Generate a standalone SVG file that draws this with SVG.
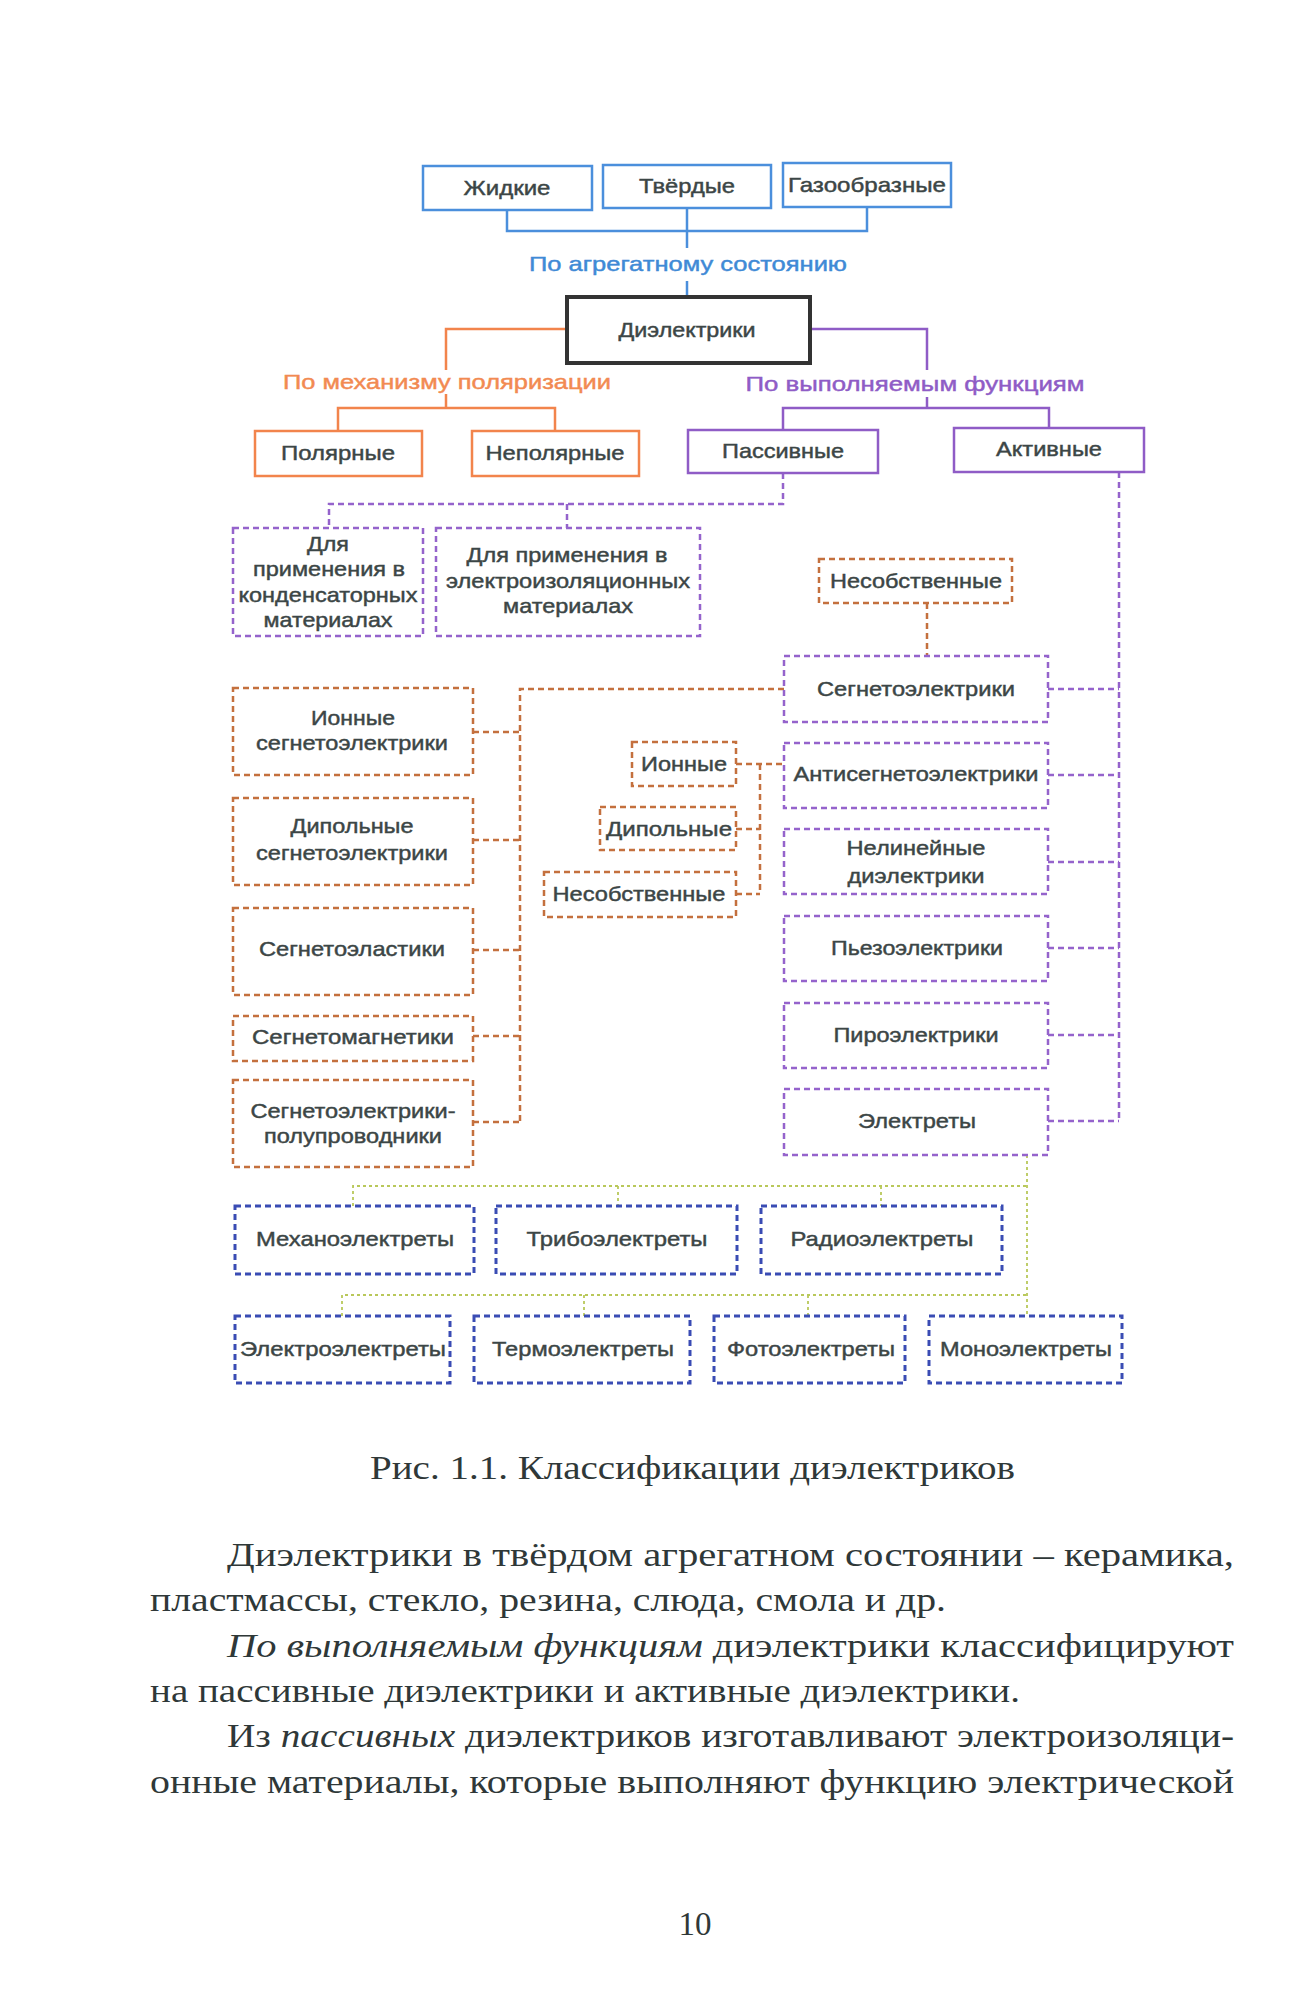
<svg xmlns="http://www.w3.org/2000/svg" width="1303" height="2000" viewBox="0 0 1303 2000">
<style>
.t{font-family:"Liberation Sans",Arial,sans-serif;font-size:21px;fill:#3c4646;stroke:#3c4646;stroke-width:0.45;text-anchor:middle}
.lb{fill:#3f8ad6;stroke:#3f8ad6}.lo{fill:#f28a52;stroke:#f28a52}.lp{fill:#8f5cc6;stroke:#8f5cc6}
.bs{fill:none;stroke:#4b8fdc;stroke-width:2.5}
.os{fill:none;stroke:#f2844c;stroke-width:2.5}
.ps{fill:none;stroke:#8f5cc6;stroke-width:2.5}
.dk{fill:none;stroke:#333;stroke-width:4}
.od{fill:none;stroke:#c4703e;stroke-width:2.5;stroke-dasharray:6 4}
.pd{fill:none;stroke:#9563cc;stroke-width:2.5;stroke-dasharray:6 4}
.bd{fill:none;stroke:#3a4cb4;stroke-width:3;stroke-dasharray:6 4}
.gd{fill:none;stroke:#b9c85a;stroke-width:1.8;stroke-dasharray:3 3}
.body{font-family:"Liberation Serif","Times New Roman",serif;font-size:33px;fill:#2f3838}
.i{font-style:italic}
</style>
<rect width="1303" height="2000" fill="#ffffff"/>
<g id="connectors">
<path class="bs" d="M507,210 V231 H867 V207 M687,208 V248 M687,281 V297"/>
<path class="os" d="M567,329 H446 V370 M446,394 V408 M338,431 V408 H555 V431"/>
<path class="ps" d="M810,329 H927 V370 M927,397 V408 M783,430 V408 H1049 V428"/>
<path class="pd" d="M783,473 V504 H329 V528 M567,504 V528"/>
<path class="pd" d="M1119,472 V1121 M1048,689 H1119 M1048,775 H1119 M1048,862 H1119 M1048,948 H1119 M1048,1035 H1119 M1048,1121 H1119"/>
<path class="od" d="M927,603 V656"/>
<path class="od" d="M784,689 H520 V1122 M473,732 H520 M473,840 H520 M473,950 H520 M473,1036 H520 M473,1122 H520"/>
<path class="od" d="M736,764 H784 M760,764 V894 M736,829 H760 M736,894 H760"/>
<path class="gd" d="M1027,1155 V1316 M353,1206 V1186 H1027 M618,1186 V1206 M881,1186 V1206 M342,1316 V1295 H1027 M584,1295 V1316 M808,1295 V1316"/>
</g>
<g id="n-zhid"><rect class="bs" x="423" y="166" width="169" height="44"/><text class="t" x="507" y="195" textLength="87" lengthAdjust="spacingAndGlyphs">Жидкие</text></g>
<g id="n-tverd"><rect class="bs" x="603" y="165" width="168" height="43"/><text class="t" x="687" y="193" textLength="96" lengthAdjust="spacingAndGlyphs">Твёрдые</text></g>
<g id="n-gaz"><rect class="bs" x="783" y="163" width="168" height="44"/><text class="t" x="867" y="192" textLength="158" lengthAdjust="spacingAndGlyphs">Газообразные</text></g>
<g id="l-agr"><text class="t lb" x="688" y="271" textLength="318" lengthAdjust="spacingAndGlyphs">По агрегатному состоянию</text></g>
<g id="n-diel"><rect class="dk" x="567" y="297" width="243" height="66"/><text class="t" x="687" y="337" textLength="137" lengthAdjust="spacingAndGlyphs">Диэлектрики</text></g>
<g id="l-mekh"><text class="t lo" x="447" y="389" textLength="328" lengthAdjust="spacingAndGlyphs">По механизму поляризации</text></g>
<g id="l-func"><text class="t lp" x="915" y="391" textLength="339" lengthAdjust="spacingAndGlyphs">По выполняемым функциям</text></g>
<g id="n-polar"><rect class="os" x="255" y="431" width="167" height="45"/><text class="t" x="338" y="460" textLength="114" lengthAdjust="spacingAndGlyphs">Полярные</text></g>
<g id="n-nepolar"><rect class="os" x="472" y="431" width="167" height="45"/><text class="t" x="555" y="460" textLength="139" lengthAdjust="spacingAndGlyphs">Неполярные</text></g>
<g id="n-passiv"><rect class="ps" x="688" y="430" width="190" height="43"/><text class="t" x="783" y="458" textLength="122" lengthAdjust="spacingAndGlyphs">Пассивные</text></g>
<g id="n-activ"><rect class="ps" x="954" y="428" width="190" height="44"/><text class="t" x="1049" y="456" textLength="106" lengthAdjust="spacingAndGlyphs">Активные</text></g>
<g id="n-kond"><rect class="pd" x="233" y="528" width="190" height="108"/>
<text class="t" x="328" y="551" textLength="42" lengthAdjust="spacingAndGlyphs">Для</text>
<text class="t" x="329" y="576" textLength="152" lengthAdjust="spacingAndGlyphs">применения в</text>
<text class="t" x="328" y="602" textLength="179" lengthAdjust="spacingAndGlyphs">конденсаторных</text>
<text class="t" x="328" y="627" textLength="129" lengthAdjust="spacingAndGlyphs">материалах</text></g>
<g id="n-izol"><rect class="pd" x="436" y="528" width="264" height="108"/>
<text class="t" x="567" y="562" textLength="201" lengthAdjust="spacingAndGlyphs">Для применения в</text>
<text class="t" x="568" y="588" textLength="244" lengthAdjust="spacingAndGlyphs">электроизоляционных</text>
<text class="t" x="568" y="613" textLength="130" lengthAdjust="spacingAndGlyphs">материалах</text></g>
<g id="n-nesob1"><rect class="od" x="819" y="559" width="193" height="44"/><text class="t" x="916" y="588" textLength="172" lengthAdjust="spacingAndGlyphs">Несобственные</text></g>
<g id="n-segn"><rect class="pd" x="784" y="656" width="264" height="66"/><text class="t" x="916" y="696" textLength="198" lengthAdjust="spacingAndGlyphs">Сегнетоэлектрики</text></g>
<g id="n-ion-s"><rect class="od" x="233" y="688" width="240" height="87"/>
<text class="t" x="353" y="725" textLength="84" lengthAdjust="spacingAndGlyphs">Ионные</text>
<text class="t" x="352" y="750" textLength="192" lengthAdjust="spacingAndGlyphs">сегнетоэлектрики</text></g>
<g id="n-dip-s"><rect class="od" x="233" y="798" width="240" height="87"/>
<text class="t" x="352" y="833" textLength="123" lengthAdjust="spacingAndGlyphs">Дипольные</text>
<text class="t" x="352" y="860" textLength="192" lengthAdjust="spacingAndGlyphs">сегнетоэлектрики</text></g>
<g id="n-segel"><rect class="od" x="233" y="908" width="240" height="87"/><text class="t" x="352" y="956" textLength="186" lengthAdjust="spacingAndGlyphs">Сегнетоэластики</text></g>
<g id="n-segmag"><rect class="od" x="233" y="1016" width="240" height="45"/><text class="t" x="353" y="1044" textLength="202" lengthAdjust="spacingAndGlyphs">Сегнетомагнетики</text></g>
<g id="n-segpp"><rect class="od" x="233" y="1080" width="240" height="87"/>
<text class="t" x="353" y="1118" textLength="205" lengthAdjust="spacingAndGlyphs">Сегнетоэлектрики-</text>
<text class="t" x="353" y="1143" textLength="178" lengthAdjust="spacingAndGlyphs">полупроводники</text></g>
<g id="n-ion"><rect class="od" x="632" y="742" width="104" height="44"/><text class="t" x="684" y="771" textLength="86" lengthAdjust="spacingAndGlyphs">Ионные</text></g>
<g id="n-dip"><rect class="od" x="600" y="807" width="136" height="43"/><text class="t" x="669" y="836" textLength="126" lengthAdjust="spacingAndGlyphs">Дипольные</text></g>
<g id="n-nesob2"><rect class="od" x="544" y="872" width="192" height="45"/><text class="t" x="639" y="901" textLength="173" lengthAdjust="spacingAndGlyphs">Несобственные</text></g>
<g id="n-anti"><rect class="pd" x="784" y="743" width="264" height="65"/><text class="t" x="916" y="781" textLength="245" lengthAdjust="spacingAndGlyphs">Антисегнетоэлектрики</text></g>
<g id="n-nelin"><rect class="pd" x="784" y="829" width="264" height="65"/>
<text class="t" x="916" y="855" textLength="139" lengthAdjust="spacingAndGlyphs">Нелинейные</text>
<text class="t" x="916" y="883" textLength="137" lengthAdjust="spacingAndGlyphs">диэлектрики</text></g>
<g id="n-pezo"><rect class="pd" x="784" y="916" width="264" height="65"/><text class="t" x="917" y="955" textLength="172" lengthAdjust="spacingAndGlyphs">Пьезоэлектрики</text></g>
<g id="n-piro"><rect class="pd" x="784" y="1003" width="264" height="65"/><text class="t" x="916" y="1042" textLength="165" lengthAdjust="spacingAndGlyphs">Пироэлектрики</text></g>
<g id="n-elektr"><rect class="pd" x="784" y="1089" width="264" height="66"/><text class="t" x="917" y="1128" textLength="118" lengthAdjust="spacingAndGlyphs">Электреты</text></g>
<g id="n-mekh"><rect class="bd" x="235" y="1206" width="239" height="68"/><text class="t" x="355" y="1246" textLength="198" lengthAdjust="spacingAndGlyphs">Механоэлектреты</text></g>
<g id="n-tribo"><rect class="bd" x="496" y="1206" width="241" height="68"/><text class="t" x="617" y="1246" textLength="181" lengthAdjust="spacingAndGlyphs">Трибоэлектреты</text></g>
<g id="n-radio"><rect class="bd" x="761" y="1206" width="241" height="68"/><text class="t" x="882" y="1246" textLength="183" lengthAdjust="spacingAndGlyphs">Радиоэлектреты</text></g>
<g id="n-elel"><rect class="bd" x="235" y="1316" width="215" height="67"/><text class="t" x="343" y="1356" textLength="206" lengthAdjust="spacingAndGlyphs">Электроэлектреты</text></g>
<g id="n-termo"><rect class="bd" x="474" y="1316" width="216" height="67"/><text class="t" x="583" y="1356" textLength="182" lengthAdjust="spacingAndGlyphs">Термоэлектреты</text></g>
<g id="n-foto"><rect class="bd" x="714" y="1316" width="191" height="67"/><text class="t" x="811" y="1356" textLength="168" lengthAdjust="spacingAndGlyphs">Фотоэлектреты</text></g>
<g id="n-mono"><rect class="bd" x="929" y="1316" width="193" height="67"/><text class="t" x="1026" y="1356" textLength="172" lengthAdjust="spacingAndGlyphs">Моноэлектреты</text></g>
<text class="body" x="370" y="1479" font-size="32" textLength="645" lengthAdjust="spacingAndGlyphs">Рис. 1.1. Классификации диэлектриков</text>
<text class="body" x="227" y="1566" textLength="1007" lengthAdjust="spacingAndGlyphs">Диэлектрики в твёрдом агрегатном состоянии – керамика,</text>
<text class="body" x="150" y="1611" textLength="796" lengthAdjust="spacingAndGlyphs">пластмассы, стекло, резина, слюда, смола и др.</text>
<text class="body" x="227" y="1657" textLength="1007" lengthAdjust="spacingAndGlyphs"><tspan class="i">По выполняемым функциям</tspan> диэлектрики классифицируют</text>
<text class="body" x="150" y="1702" textLength="870" lengthAdjust="spacingAndGlyphs">на пассивные диэлектрики и активные диэлектрики.</text>
<text class="body" x="227" y="1747" textLength="1007" lengthAdjust="spacingAndGlyphs">Из <tspan class="i">пассивных</tspan> диэлектриков изготавливают электроизоляци-</text>
<text class="body" x="150" y="1793" textLength="1084" lengthAdjust="spacingAndGlyphs">онные материалы, которые выполняют функцию электрической</text>
<text class="body" x="695" y="1935" text-anchor="middle">10</text>
</svg>
